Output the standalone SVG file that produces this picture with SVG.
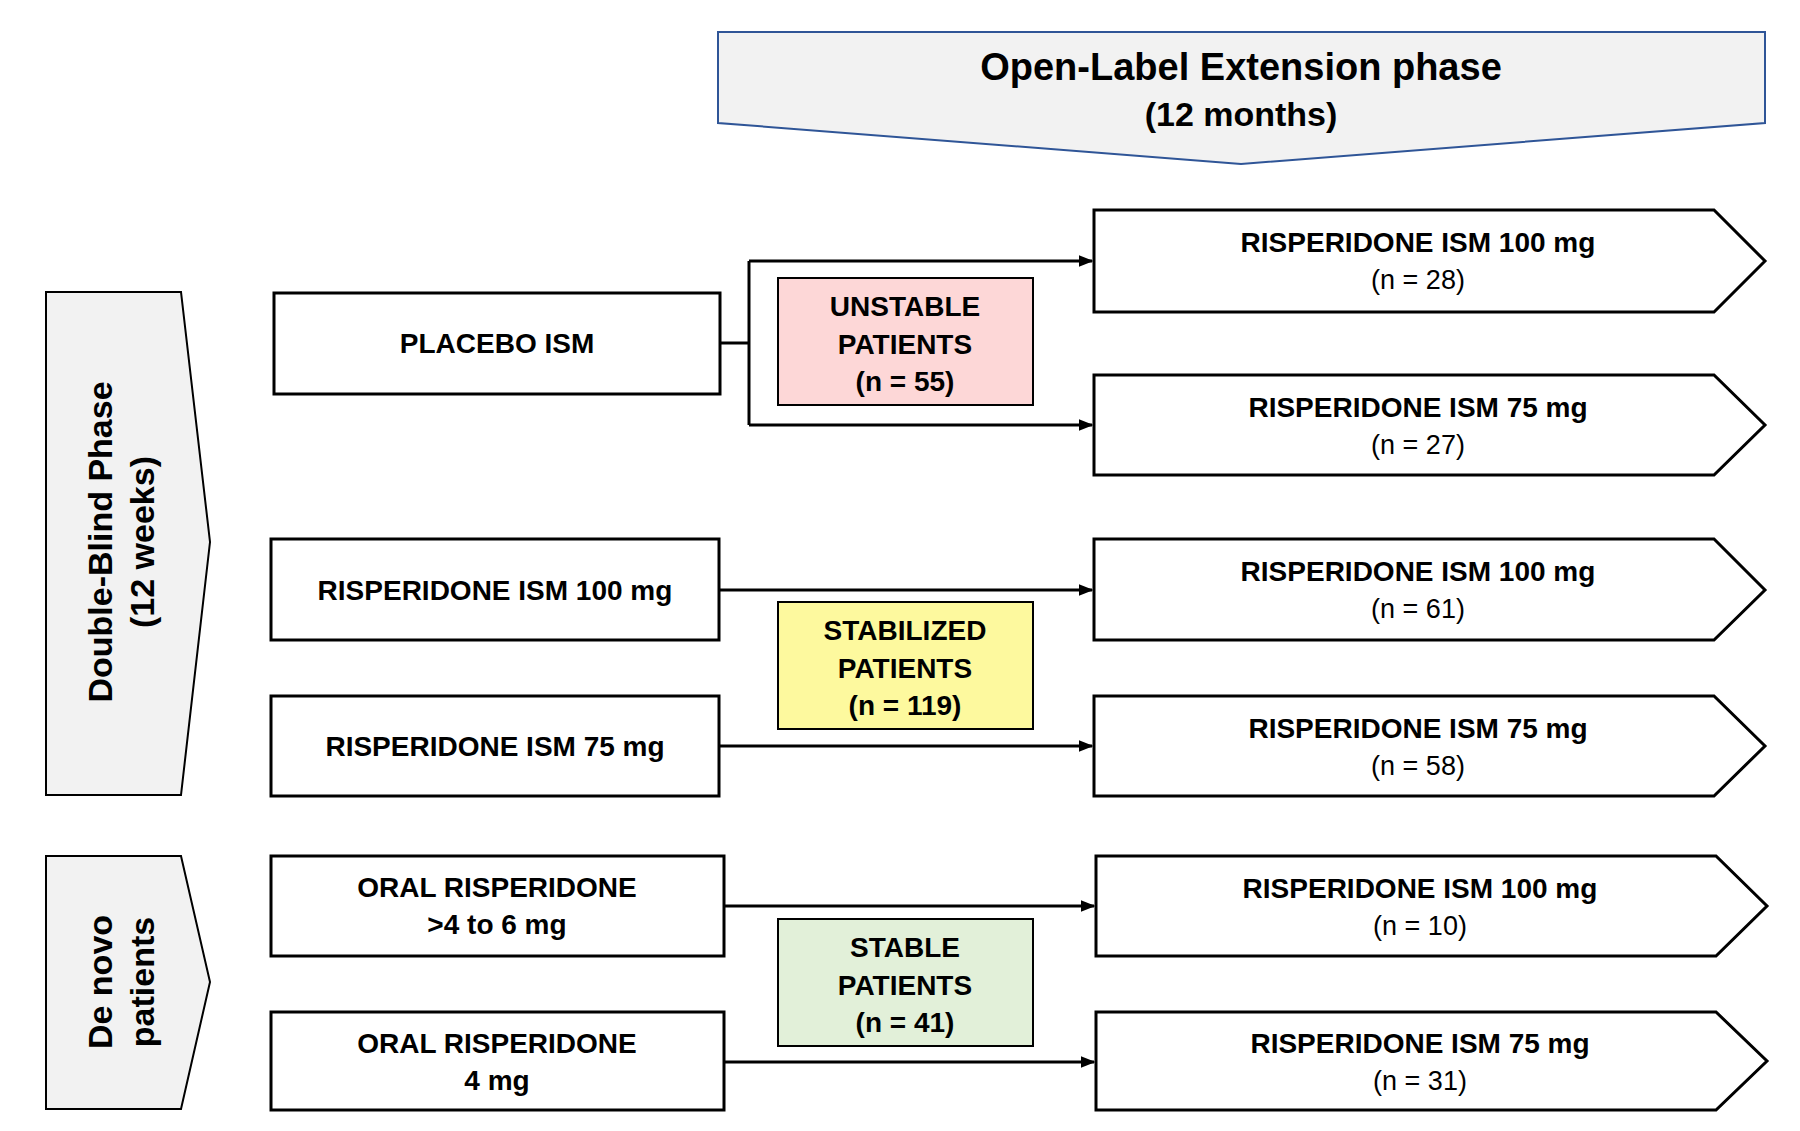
<svg xmlns="http://www.w3.org/2000/svg" width="1800" height="1131" viewBox="0 0 1800 1131">
<style>
text{font-family:"Liberation Sans",Arial,sans-serif;text-anchor:middle;fill:#000}
.b{font-weight:bold;font-size:28px}
.n{font-size:27px}
.h{font-weight:bold;font-size:38px}
.box{fill:#fff;stroke:#000;stroke-width:3}
.ph{fill:#f2f2f2;stroke:#000;stroke-width:2}
.ln{fill:none;stroke:#000;stroke-width:3}
</style>
<defs><marker id="ar" markerWidth="8" markerHeight="8" refX="7" refY="4" orient="auto" markerUnits="userSpaceOnUse"><path d="M0,0 L8,4 L0,8 z" fill="#000"/></marker>
<marker id="a" viewBox="0 0 10 10" markerWidth="5" markerHeight="5" refX="9" refY="5" orient="auto"><path d="M0,1 L10,5 L0,9 z" fill="#000"/></marker></defs>
<g id="olephase"><polygon points="718,32 1765,32 1765,123 1241,164 718,123" fill="#f2f2f2" stroke="#2f5597" stroke-width="2"/>
<text class="h" x="1241" y="80">Open-Label Extension phase</text><text class="h" x="1241" y="126" style="font-size:34px">(12 months)</text></g>
<g id="dbphase"><polygon class="ph" points="46,292 181,292 210,542 181,795 46,795"/>
<text class="h" transform="translate(112,542) rotate(-90)" style="font-size:34px">Double-Blind Phase</text>
<text class="h" transform="translate(154,542) rotate(-90)" style="font-size:34px">(12 weeks)</text></g>
<g id="denovo"><polygon class="ph" points="46,856 181,856 210,982 181,1109 46,1109"/>
<text class="h" transform="translate(112,982) rotate(-90)" style="font-size:34px">De novo</text>
<text class="h" transform="translate(154,982) rotate(-90)" style="font-size:34px">patients</text></g>
<g id="placebo"><rect class="box" x="274" y="293" width="446" height="101"/><text class="b" x="497" y="353">PLACEBO ISM</text></g>
<g id="r100"><rect class="box" x="271" y="539" width="448" height="101"/><text class="b" x="495" y="600">RISPERIDONE ISM 100 mg</text></g>
<g id="r75"><rect class="box" x="271" y="696" width="448" height="100"/><text class="b" x="495" y="756">RISPERIDONE ISM 75 mg</text></g>
<g id="oral1"><rect class="box" x="271" y="856" width="453" height="100"/><text class="b" x="497" y="897">ORAL  RISPERIDONE</text><text class="b" x="497" y="934">&gt;4 to 6 mg</text></g>
<g id="oral2"><rect class="box" x="271" y="1012" width="453" height="98"/><text class="b" x="497" y="1053">ORAL  RISPERIDONE</text><text class="b" x="497" y="1090">4 mg</text></g>
<g id="connectors" class="ln">
<path d="M720,343 H749"/><path d="M749,261 V425"/>
<path d="M749,261 H1092" marker-end="url(#a)"/><path d="M749,425 H1092" marker-end="url(#a)"/>
<path d="M719,590 H1092" marker-end="url(#a)"/><path d="M719,746 H1092" marker-end="url(#a)"/>
<path d="M724,906 H1094" marker-end="url(#a)"/><path d="M724,1062 H1094" marker-end="url(#a)"/>
</g>
<g id="unstable"><rect x="778" y="278" width="255" height="127" fill="#fdd7d7" stroke="#000" stroke-width="2"/><text class="b" x="905" y="316">UNSTABLE</text><text class="b" x="905" y="354">PATIENTS</text><text class="b" x="905" y="391">(n = 55)</text></g>
<g id="stabilized"><rect x="778" y="602" width="255" height="127" fill="#fdf99e" stroke="#000" stroke-width="2"/><text class="b" x="905" y="640">STABILIZED</text><text class="b" x="905" y="678">PATIENTS</text><text class="b" x="905" y="715">(n = 119)</text></g>
<g id="stable"><rect x="778" y="919" width="255" height="127" fill="#e2f0d9" stroke="#000" stroke-width="2"/><text class="b" x="905" y="957">STABLE</text><text class="b" x="905" y="995">PATIENTS</text><text class="b" x="905" y="1032">(n = 41)</text></g>
<g id="o1"><polygon class="box" points="1094,210 1714,210 1765,261 1714,312 1094,312"/><text class="b" x="1418" y="252">RISPERIDONE ISM 100 mg</text><text class="n" x="1418" y="289">(n = 28)</text></g>
<g id="o2"><polygon class="box" points="1094,375 1714,375 1765,425 1714,475 1094,475"/><text class="b" x="1418" y="417">RISPERIDONE ISM 75 mg</text><text class="n" x="1418" y="454">(n = 27)</text></g>
<g id="o3"><polygon class="box" points="1094,539 1714,539 1765,590 1714,640 1094,640"/><text class="b" x="1418" y="581">RISPERIDONE ISM 100 mg</text><text class="n" x="1418" y="618">(n = 61)</text></g>
<g id="o4"><polygon class="box" points="1094,696 1714,696 1765,746 1714,796 1094,796"/><text class="b" x="1418" y="738">RISPERIDONE ISM 75 mg</text><text class="n" x="1418" y="775">(n = 58)</text></g>
<g id="o5"><polygon class="box" points="1096,856 1716,856 1767,906 1716,956 1096,956"/><text class="b" x="1420" y="898">RISPERIDONE ISM 100 mg</text><text class="n" x="1420" y="935">(n = 10)</text></g>
<g id="o6"><polygon class="box" points="1096,1012 1716,1012 1767,1061 1716,1110 1096,1110"/><text class="b" x="1420" y="1053">RISPERIDONE ISM 75 mg</text><text class="n" x="1420" y="1090">(n = 31)</text></g>
</svg>
